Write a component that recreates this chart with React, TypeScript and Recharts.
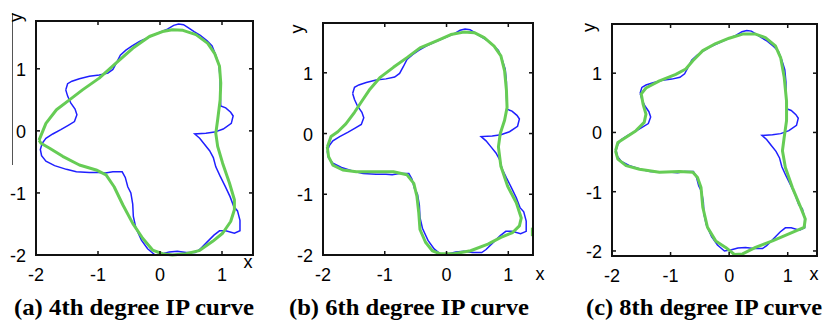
import React from 'react';
import { ScatterChart, Scatter, XAxis, YAxis } from 'recharts';

// ---------- data ----------
const xTicks = [-2, -1, 0, 1];
const yTicks = [-2, -1, 0, 1];
const titles = ['(a) 4th degree IP curve', '(b) 6th degree IP curve', '(c) 8th degree IP curve'];

// original (blue) contour, same in every panel
const blueContour: number[][] = [
  [-1.52, 0.66], [-1.49, 0.76], [-1.42, 0.8], [-1.3, 0.84], [-1.14, 0.88], [-0.98, 0.9], [-0.84, 0.93],
  [-0.76, 0.99], [-0.7, 1.1], [-0.64, 1.22], [-0.55, 1.3], [-0.45, 1.37], [-0.33, 1.44], [-0.18, 1.51],
  [-0.02, 1.58], [0.12, 1.64], [0.22, 1.7], [0.3, 1.72], [0.38, 1.71], [0.46, 1.66], [0.55, 1.6],
  [0.65, 1.54], [0.76, 1.45], [0.84, 1.37], [0.9, 1.22], [0.95, 1.06], [0.97, 0.85], [0.97, 0.62],
  [0.98, 0.4], [1.06, 0.37], [1.14, 0.3], [1.18, 0.24], [1.15, 0.12], [1.02, 0.03], [0.88, -0.02],
  [0.74, -0.04], [0.56, -0.05], [0.64, -0.12], [0.72, -0.22], [0.8, -0.32], [0.86, -0.43], [0.9, -0.58],
  [0.97, -0.73], [1.05, -0.89], [1.13, -1.06], [1.19, -1.22], [1.25, -1.29], [1.29, -1.44], [1.29, -1.61],
  [1.2, -1.65], [1.06, -1.61], [0.96, -1.61], [0.87, -1.68], [0.77, -1.78], [0.64, -1.91], [0.57, -1.96],
  [0.42, -1.96], [0.28, -1.94], [0.15, -1.95], [0.04, -1.98], [-0.08, -2.0], [-0.2, -1.9], [-0.3, -1.76],
  [-0.39, -1.56], [-0.43, -1.38], [-0.44, -1.18], [-0.47, -1.0], [-0.52, -0.9], [-0.56, -0.75], [-0.61, -0.66],
  [-0.76, -0.66], [-0.88, -0.68], [-0.98, -0.67], [-1.14, -0.67], [-1.35, -0.66], [-1.51, -0.62], [-1.7, -0.56],
  [-1.84, -0.49], [-1.91, -0.4], [-1.93, -0.3], [-1.9, -0.2], [-1.84, -0.12], [-1.73, -0.05], [-1.6, 0.02],
  [-1.48, 0.09], [-1.38, 0.15], [-1.34, 0.26], [-1.37, 0.35], [-1.44, 0.45], [-1.49, 0.56], [-1.52, 0.66],
];

// fitted IP curves (green)
const green4: number[][] = [
  [-1.95, -0.15], [-1.84, 0.12], [-1.67, 0.34], [-1.46, 0.5], [-1.25, 0.66], [-0.98, 0.85], [-0.71, 1.09],
  [-0.44, 1.33], [-0.17, 1.52], [0.04, 1.6], [0.2, 1.63], [0.37, 1.62], [0.58, 1.55], [0.77, 1.41],
  [0.88, 1.25], [0.96, 1.04], [0.98, 0.77], [0.97, 0.5], [0.93, 0.18], [0.9, -0.04], [0.93, -0.25],
  [1.01, -0.52], [1.12, -0.84], [1.2, -1.11], [1.2, -1.27], [1.14, -1.46], [1.01, -1.65], [0.85, -1.78],
  [0.63, -1.93], [0.42, -1.98], [0.2, -2.0], [0.04, -1.98], [-0.12, -1.92], [-0.28, -1.73], [-0.44, -1.49],
  [-0.6, -1.19], [-0.74, -0.9], [-0.87, -0.71], [-1.03, -0.63], [-1.3, -0.55], [-1.57, -0.41], [-1.78, -0.28],
  [-1.92, -0.2], [-1.95, -0.15],
];
const green6: number[][] = [
  [-1.93, -0.22], [-1.87, -0.05], [-1.76, 0.03], [-1.63, 0.16], [-1.49, 0.35], [-1.38, 0.52], [-1.24, 0.73],
  [-1.08, 0.92], [-0.86, 1.09], [-0.64, 1.25], [-0.43, 1.41], [-0.15, 1.53], [0.07, 1.63], [0.28, 1.67],
  [0.45, 1.66], [0.61, 1.58], [0.77, 1.44], [0.88, 1.28], [0.94, 1.03], [0.97, 0.71], [0.98, 0.43],
  [0.94, 0.22], [0.87, 0.0], [0.84, -0.22], [0.88, -0.54], [0.99, -0.87], [1.13, -1.14], [1.21, -1.39],
  [1.18, -1.52], [1.07, -1.63], [0.88, -1.71], [0.67, -1.82], [0.39, -1.93], [0.12, -1.98], [-0.1, -1.98],
  [-0.23, -1.93], [-0.34, -1.79], [-0.43, -1.58], [-0.45, -1.3], [-0.48, -1.03], [-0.53, -0.82], [-0.64, -0.68],
  [-0.86, -0.63], [-1.19, -0.63], [-1.46, -0.63], [-1.68, -0.6], [-1.84, -0.52], [-1.91, -0.38], [-1.93, -0.22],
];
const green6Branch: number[][] = [[1.39, -1.55], [1.39, -1.69]];
const green8: number[][] = [
  [-1.94, -0.31], [-1.9, -0.17], [-1.76, -0.08], [-1.59, 0.03], [-1.45, 0.17], [-1.42, 0.31], [-1.47, 0.48],
  [-1.5, 0.65], [-1.42, 0.75], [-1.19, 0.87], [-0.91, 0.98], [-0.74, 1.07], [-0.62, 1.21], [-0.45, 1.38],
  [-0.23, 1.5], [0.0, 1.59], [0.23, 1.66], [0.45, 1.66], [0.62, 1.6], [0.79, 1.46], [0.88, 1.26],
  [0.94, 0.93], [0.98, 0.53], [0.98, 0.2], [0.94, -0.08], [0.91, -0.31], [0.96, -0.59], [1.08, -0.93],
  [1.22, -1.26], [1.3, -1.46], [1.28, -1.6], [1.02, -1.71], [0.74, -1.83], [0.45, -1.94], [0.23, -2.05],
  [0.09, -2.06], [-0.06, -1.94], [-0.23, -1.83], [-0.37, -1.6], [-0.45, -1.26], [-0.48, -0.93], [-0.54, -0.76],
  [-0.62, -0.67], [-0.85, -0.66], [-1.19, -0.67], [-1.53, -0.62], [-1.76, -0.56], [-1.9, -0.45], [-1.94, -0.31],
];

// ---------- layout ----------
type Layout = {
  plotLeft: number; plotTop: number; plotW: number; plotH: number;
  xDomain: [number, number]; yDomain: [number, number];
};
const layoutA: Layout = { plotLeft: 36, plotTop: 21, plotW: 217, plotH: 234, xDomain: [-2, 1.5], yDomain: [-2, 1.77] };
const layoutB: Layout = { plotLeft: 323, plotTop: 23, plotW: 210, plotH: 232, xDomain: [-2, 1.4], yDomain: [-2, 1.82] };
const layoutC: Layout = { plotLeft: 612, plotTop: 24, plotW: 205, plotH: 232, xDomain: [-2, 1.5], yDomain: [-2.085, 1.83] };

// ---------- helpers ----------
const toPts = (a: number[][]) => a.map(([x, y]) => ({ x, y }));
const BLUE = '#1f1fff';
const GREEN = '#66cc55';
const labelFont = 'Liberation Sans, Arial, sans-serif';
const titleFont = 'Liberation Serif, Times New Roman, serif';
const Y_AXIS_W = 40;
const X_AXIS_H = 40;
const TICK_LEN = 4;

const XTickLabel = (props: any) => {
  const { x, y, payload } = props;
  return (
    <text x={x} y={y + 18} textAnchor="middle" fontSize={18} fontFamily={labelFont} fill="#000">
      {String(payload.value)}
    </text>
  );
};

const YTickLabel = (props: any) => {
  const { y, payload } = props;
  return (
    <text x={Y_AXIS_W - 10} y={y + 7} textAnchor="end" fontSize={18} fontFamily={labelFont} fill="#000">
      {String(payload.value)}
    </text>
  );
};

// frame box with inward ticks on all four sides (MATLAB style), drawn with filled bars,
// using the same linear mapping as the chart axes
function Frame({ plotLeft, plotTop, plotW, plotH, xDomain, yDomain }: Layout) {
  const sx = (v: number) => plotLeft + ((v - xDomain[0]) / (xDomain[1] - xDomain[0])) * plotW;
  const sy = (v: number) => plotTop + ((yDomain[1] - v) / (yDomain[1] - yDomain[0])) * plotH;
  const L = plotLeft, R = plotLeft + plotW, T = plotTop, B = plotTop + plotH;
  return (
    <g>
      {/* grey stroked backup */}
      <rect x={L} y={T} width={plotW} height={plotH} fill="none" stroke="#555" strokeWidth={1} />
      {/* black filled edges */}
      <rect x={L - 1} y={T - 1} width={plotW + 2} height={2} fill="#111" />
      <rect x={L - 1} y={B - 1} width={plotW + 2} height={2} fill="#111" />
      <rect x={L - 1} y={T - 1} width={2} height={plotH + 2} fill="#111" />
      <rect x={R - 1} y={T - 1} width={2} height={plotH + 2} fill="#111" />
      {xTicks.map((v) => (
        <g key={'x' + v}>
          <rect x={sx(v) - 0.75} y={B - TICK_LEN} width={1.5} height={TICK_LEN} fill="#111" />
          <rect x={sx(v) - 0.75} y={T} width={1.5} height={TICK_LEN} fill="#111" />
        </g>
      ))}
      {yTicks.map((v) => (
        <g key={'y' + v}>
          <rect x={L} y={sy(v) - 0.75} width={TICK_LEN} height={1.5} fill="#111" />
          <rect x={R - TICK_LEN} y={sy(v) - 0.75} width={TICK_LEN} height={1.5} fill="#111" />
        </g>
      ))}
    </g>
  );
}

function Panel({ layout, green, extra }: { layout: Layout; green: number[][]; extra?: number[][] }) {
  const { plotLeft, plotTop, plotW, plotH, xDomain, yDomain } = layout;
  const width = Y_AXIS_W + plotW + 10;
  const height = plotTop + plotH + X_AXIS_H;
  return (
    <div style={{ position: 'absolute', left: plotLeft - Y_AXIS_W, top: 0 }}>
      <ScatterChart width={width} height={height} margin={{ top: plotTop, left: 0, right: 10, bottom: 0 }}>
        <XAxis type="number" dataKey="x" domain={xDomain} ticks={xTicks} interval={0} height={X_AXIS_H}
          axisLine={false} tickLine={false} tick={XTickLabel} />
        <YAxis type="number" dataKey="y" domain={yDomain} ticks={yTicks} interval={0} width={Y_AXIS_W}
          axisLine={false} tickLine={false} tick={YTickLabel} />
        <Scatter data={toPts(blueContour)} shape={() => <g />}
          line={{ stroke: BLUE, strokeWidth: 1.5 }} isAnimationActive={false} />
        <Scatter data={toPts(green)} shape={() => <g />}
          line={{ stroke: GREEN, strokeWidth: 3, strokeLinejoin: 'round' }} isAnimationActive={false} />
        {extra && (
          <Scatter data={toPts(extra)} shape={() => <g />}
            line={{ stroke: GREEN, strokeWidth: 3 }} isAnimationActive={false} />
        )}
      </ScatterChart>
    </div>
  );
}

export default function App() {
  return (
    <div style={{ position: 'absolute', left: 0, top: 0, width: 824, height: 320, background: '#fff', overflow: 'hidden' }}>
      <Panel layout={layoutA} green={green4} />
      <Panel layout={layoutB} green={green6} extra={green6Branch} />
      <Panel layout={layoutC} green={green8} />
      <svg width={824} height={320} style={{ position: 'absolute', left: 0, top: 0, pointerEvents: 'none' }}>
        <Frame {...layoutA} />
        <Frame {...layoutB} />
        <Frame {...layoutC} />
        <line x1={12.5} y1={13} x2={12.5} y2={165} stroke="#555" strokeWidth={1} />
        <text x={248} y={268} textAnchor="middle" fontSize={18} fontFamily={labelFont}>x</text>
        <text x={540} y={280} textAnchor="middle" fontSize={18} fontFamily={labelFont}>x</text>
        <text x={814} y={280} textAnchor="middle" fontSize={18} fontFamily={labelFont}>x</text>
        <text transform="translate(22,17.5) rotate(-90)" textAnchor="middle" fontSize={18} fontFamily={labelFont}>y</text>
        <text transform="translate(303,29) rotate(-90)" textAnchor="middle" fontSize={18} fontFamily={labelFont}>y</text>
        <text transform="translate(595,27.5) rotate(-90)" textAnchor="middle" fontSize={18} fontFamily={labelFont}>y</text>
        <text x={134} y={315} textAnchor="middle" fontSize={24} fontWeight="bold" fontFamily={titleFont} textLength={240} lengthAdjust="spacingAndGlyphs">{titles[0]}</text>
        <text x={409} y={315} textAnchor="middle" fontSize={24} fontWeight="bold" fontFamily={titleFont} textLength={240} lengthAdjust="spacingAndGlyphs">{titles[1]}</text>
        <text x={704} y={315} textAnchor="middle" fontSize={24} fontWeight="bold" fontFamily={titleFont} textLength={236} lengthAdjust="spacingAndGlyphs">{titles[2]}</text>
      </svg>
    </div>
  );
}
